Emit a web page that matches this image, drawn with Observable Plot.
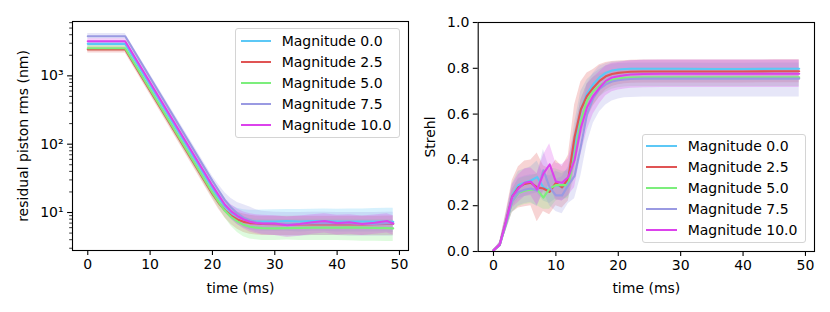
<!DOCTYPE html>
<html><head><meta charset="utf-8">
<script src="https://cdn.jsdelivr.net/npm/d3@7"></script>
<script src="https://cdn.jsdelivr.net/npm/@observablehq/plot@0.6"></script>
<style>
body{margin:0;background:#fff;}
#wrap{position:relative;width:830px;height:312px;font-family:"DejaVu Sans",sans-serif;overflow:hidden;}
.panel{position:absolute;top:0;}
.legend{position:absolute;border:1px solid #d4d4d4;border-radius:3px;background:rgba(255,255,255,0.8);box-sizing:border-box;}
.lhandle{position:absolute;height:2px;}
.ltext{position:absolute;font-size:14px;line-height:20px;height:20px;white-space:nowrap;color:#000;}
</style></head><body><div id="wrap"></div>
<script>
const seriesLabels = ["Magnitude 0.0", "Magnitude 2.5", "Magnitude 5.0", "Magnitude 7.5", "Magnitude 10.0"];
const seriesColors = ["#5cc8f6", "#e05454", "#7cee7c", "#9a9ae2", "#dc42ec"];

// ---- left panel: residual piston rms (nm) ----
const pistonTime = [0, 6, 20, 21, 22, 23, 24, 25, 26, 27, 28, 30, 32, 34, 36, 38, 40, 42, 44, 46, 48, 49];
const pistonMean00 = [2940, 2940, 22.6, 16.5, 12.3, 10.0, 8.7, 8.0, 7.6, 7.4, 7.4, 7.4, 7.5, 7.4, 7.5, 7.5, 7.4, 7.4, 7.4, 7.4, 7.4, 7.3];
const pistonLo00   = [2700, 2700, 19.5, 13.8, 10.0, 7.9, 6.7, 6.0, 5.6, 5.4, 5.3, 5.3, 5.3, 5.2, 5.3, 5.3, 5.2, 5.2, 5.2, 5.2, 5.2, 5.1];
const pistonHi00   = [3200, 3200, 26.5, 19.8, 15.2, 12.8, 11.5, 11.0, 10.8, 10.8, 10.9, 11.0, 11.1, 11.1, 11.2, 11.3, 11.2, 11.3, 11.3, 11.4, 11.5, 11.5];
const pistonMean25 = [2430, 2430, 18.7, 13.8, 10.8, 9.0, 7.9, 7.3, 7.0, 6.9, 6.8, 6.75, 6.7, 6.7, 6.75, 6.7, 6.75, 6.7, 6.7, 6.75, 6.8, 6.8];
const pistonLo25   = [2150, 2150, 15.8, 11.2, 8.4, 6.7, 5.7, 5.1, 4.8, 4.7, 4.6, 4.6, 4.6, 4.6, 4.6, 4.6, 4.6, 4.6, 4.6, 4.6, 4.6, 4.6];
const pistonHi25   = [2700, 2700, 22, 16.8, 13.5, 11.5, 10.2, 9.5, 9.1, 8.9, 8.8, 8.8, 8.8, 8.8, 8.8, 8.8, 8.8, 8.8, 8.8, 8.8, 8.9, 8.9];
const pistonMean50 = [2540, 2540, 19.5, 14.2, 10.6, 8.6, 7.4, 6.6, 6.2, 6.0, 5.9, 5.85, 5.9, 5.95, 6.0, 6.0, 6.0, 6.05, 6.0, 5.95, 5.9, 5.85];
const pistonLo50   = [2300, 2300, 16.6, 11.8, 8.4, 6.3, 5.1, 4.4, 4.1, 4.0, 3.9, 3.9, 3.95, 3.9, 3.9, 3.9, 3.9, 3.85, 3.8, 3.8, 3.75, 3.75];
const pistonHi50   = [2800, 2800, 22.8, 17, 13, 10.8, 9.4, 8.6, 8.2, 8.0, 7.9, 7.9, 7.9, 8.0, 8.0, 8.0, 8.0, 8.0, 7.9, 7.9, 7.9, 7.8];
const pistonMean75 = [3800, 3800, 29, 21, 15.2, 11.8, 9.7, 8.4, 7.7, 7.2, 7.0, 6.9, 6.8, 6.8, 6.9, 7.0, 6.9, 6.9, 6.8, 6.8, 6.9, 6.9];
const pistonLo75   = [3450, 3450, 25, 17.5, 12.2, 9.1, 7.3, 6.2, 5.5, 5.1, 4.8, 4.6, 4.5, 4.5, 4.6, 4.6, 4.6, 4.5, 4.5, 4.5, 4.5, 4.5];
const pistonHi75   = [4150, 4150, 34, 25.5, 19.5, 16, 14, 13, 12, 11, 10.4, 10.1, 10.0, 10.0, 10.1, 10.1, 10.0, 10.0, 10.0, 10.0, 10.1, 10.1];
const pistonMean100 = [3210, 3210, 24.7, 17.8, 13.0, 10.4, 8.9, 7.9, 7.3, 7.0, 6.9, 6.9, 6.5, 6.8, 7.2, 7.5, 7.0, 7.2, 6.8, 7.1, 7.5, 6.9];
const pistonLo100   = [2950, 2950, 21, 14.8, 10.5, 8.1, 6.7, 5.8, 5.2, 4.9, 4.7, 4.6, 4.3, 4.5, 4.8, 5.0, 4.7, 4.8, 4.6, 4.8, 5.0, 4.7];
const pistonHi100   = [3500, 3500, 29, 21.5, 16, 13, 11.3, 10.2, 9.6, 9.3, 9.1, 9.0, 8.6, 8.9, 9.3, 9.6, 9.1, 9.3, 8.9, 9.2, 9.6, 9.0];

// ---- right panel: Strehl ----
const strehlTime = [0,1,2,3,4,5,6,7,8,9,10,11,12,13,14,15,16,17,18,19,20,21,22,24,27,30,35,40,45,49];
const strehlMean00 = [0.005,0.03,0.13,0.245,0.29,0.30,0.31,0.325,0.28,0.27,0.29,0.28,0.30,0.47,0.62,0.69,0.73,0.76,0.78,0.79,0.795,0.797,0.798,0.798,0.798,0.798,0.797,0.797,0.798,0.798];
const strehlSd00   = [0.002,0.01,0.03,0.05,0.06,0.06,0.06,0.07,0.06,0.06,0.06,0.06,0.06,0.09,0.08,0.06,0.045,0.035,0.03,0.028,0.026,0.025,0.025,0.025,0.025,0.025,0.025,0.025,0.025,0.025];
const strehlMean25 = [0.005,0.03,0.13,0.24,0.28,0.295,0.30,0.28,0.275,0.26,0.30,0.28,0.32,0.50,0.62,0.68,0.715,0.745,0.765,0.775,0.78,0.783,0.785,0.786,0.786,0.786,0.786,0.786,0.787,0.787];
const strehlSd25   = [0.002,0.01,0.04,0.07,0.09,0.10,0.10,0.15,0.10,0.10,0.10,0.09,0.10,0.14,0.12,0.10,0.08,0.07,0.06,0.055,0.052,0.05,0.05,0.05,0.05,0.05,0.05,0.05,0.05,0.05];
const strehlMean50 = [0.005,0.028,0.12,0.22,0.255,0.265,0.27,0.27,0.235,0.275,0.29,0.29,0.29,0.42,0.57,0.66,0.70,0.725,0.74,0.75,0.755,0.758,0.76,0.761,0.761,0.761,0.761,0.761,0.761,0.761];
const strehlSd50   = [0.002,0.01,0.03,0.05,0.06,0.06,0.06,0.07,0.05,0.09,0.07,0.06,0.06,0.10,0.09,0.07,0.06,0.05,0.045,0.042,0.04,0.04,0.04,0.04,0.04,0.04,0.04,0.04,0.04,0.04];
const strehlMean75 = [0.005,0.028,0.12,0.22,0.26,0.27,0.275,0.265,0.355,0.28,0.245,0.245,0.29,0.33,0.46,0.60,0.67,0.71,0.73,0.742,0.748,0.751,0.753,0.755,0.755,0.755,0.755,0.755,0.755,0.755];
const strehlSd75   = [0.002,0.01,0.03,0.05,0.06,0.06,0.06,0.07,0.09,0.08,0.07,0.08,0.08,0.10,0.13,0.13,0.11,0.10,0.09,0.085,0.082,0.08,0.08,0.08,0.08,0.08,0.08,0.08,0.08,0.08];
const strehlMean100 = [0.005,0.03,0.13,0.24,0.275,0.30,0.305,0.27,0.34,0.38,0.305,0.30,0.325,0.40,0.54,0.63,0.68,0.715,0.745,0.76,0.765,0.77,0.773,0.775,0.776,0.776,0.776,0.776,0.776,0.776];
const strehlSd100   = [0.002,0.01,0.03,0.05,0.06,0.06,0.06,0.07,0.08,0.09,0.08,0.08,0.08,0.12,0.12,0.10,0.08,0.07,0.065,0.062,0.06,0.06,0.06,0.06,0.06,0.06,0.06,0.06,0.06,0.06];

const xTicks = [0, 10, 20, 30, 40, 50];
const pistonMajorTicks = [10, 100, 1000];
const pistonMajorLabels = ["10\u00b9", "10\u00b2", "10\u00b3"];
const pistonMinorTicks = [3,4,5,6,7,8,9,20,30,40,50,60,70,80,90,200,300,400,500,600,700,800,900,2000,3000,4000,5000,6000];
const strehlTicks = [0, 0.2, 0.4, 0.6, 0.8, 1.0];

// build tables
const pistonSets = [
  [pistonMean00, pistonLo00, pistonHi00],
  [pistonMean25, pistonLo25, pistonHi25],
  [pistonMean50, pistonLo50, pistonHi50],
  [pistonMean75, pistonLo75, pistonHi75],
  [pistonMean100, pistonLo100, pistonHi100]
];
const pistonRows = pistonSets.flatMap(([m, lo, hi], s) =>
  pistonTime.map((t, i) => ({t, mean: m[i], lo: lo[i], hi: hi[i], series: seriesLabels[s]})));
const strehlSets = [
  [strehlMean00, strehlSd00], [strehlMean25, strehlSd25], [strehlMean50, strehlSd50],
  [strehlMean75, strehlSd75], [strehlMean100, strehlSd100]
];
const strehlRows = strehlSets.flatMap(([m, sd], s) =>
  strehlTime.map((t, i) => ({t, mean: m[i], lo: m[i] - sd[i], hi: m[i] + sd[i], series: seriesLabels[s]})));

const commonStyle = {fontFamily: "DejaVu Sans", fontSize: "14px", color: "black", background: "transparent", overflow: "visible"};
const colorScale = {domain: seriesLabels, range: seriesColors};

function bandsAndLines(rows) {
  const marks = [];
  for (const lab of seriesLabels) {
    marks.push(Plot.areaY(rows.filter(d => d.series === lab), {x: "t", y1: "lo", y2: "hi", fill: "series", fillOpacity: 0.25}));
  }
  for (const lab of seriesLabels) {
    marks.push(Plot.lineY(rows.filter(d => d.series === lab), {x: "t", y: "mean", stroke: "series", strokeWidth: 2.1}));
  }
  return marks;
}

const left = Plot.plot({
  width: 415, height: 312,
  marginLeft: 72, marginRight: 7, marginTop: 21, marginBottom: 62,
  style: commonStyle,
  x: {domain: [-2.45, 51.45]},
  y: {type: "log", domain: [2.78, 6240]},
  color: colorScale,
  marks: [
    ...bandsAndLines(pistonRows),
    Plot.frame({stroke: "black", strokeWidth: 1.1}),
    Plot.axisX({ticks: xTicks, tickSize: 4.9, tickPadding: 4, strokeWidth: 1.1, tickFormat: d => String(d),
      label: "time (ms)", labelAnchor: "center", labelOffset: 42, labelArrow: "none"}),
    Plot.axisY({ticks: pistonMinorTicks, tickSize: 2.8, strokeWidth: 0.8, tickFormat: () => "", label: null}),
    Plot.axisY({ticks: pistonMajorTicks, tickSize: 4.9, tickPadding: 4, strokeWidth: 1.1,
      tickFormat: d => pistonMajorLabels[pistonMajorTicks.indexOf(d)],
      label: "residual piston rms (nm)", labelAnchor: "center", labelOffset: 54, labelArrow: "none"})
  ]
});

const right = Plot.plot({
  width: 415, height: 312,
  marginLeft: 62.7, marginRight: 16, marginTop: 22, marginBottom: 61,
  style: commonStyle,
  x: {domain: [-2.45, 51.45]},
  y: {domain: [0, 1]},
  color: colorScale,
  marks: [
    ...bandsAndLines(strehlRows),
    Plot.frame({stroke: "black", strokeWidth: 1.1}),
    Plot.axisX({ticks: xTicks, tickSize: 4.9, tickPadding: 4, strokeWidth: 1.1, tickFormat: d => String(d),
      label: "time (ms)", labelAnchor: "center", labelOffset: 41, labelArrow: "none"}),
    Plot.axisY({ticks: strehlTicks, tickSize: 4.9, tickPadding: 4, strokeWidth: 1.1, tickFormat: d => d.toFixed(1),
      label: "Strehl", labelAnchor: "center", labelOffset: 52.7, labelArrow: "none"})
  ]
});

const wrap = document.getElementById("wrap");
left.classList.add("panel"); left.style.left = "0px";
right.classList.add("panel"); right.style.left = "415px";
wrap.appendChild(left);
wrap.appendChild(right);

function addLegend(box, rowTop, rowStep, handleLeft, handleWidth, textLeft) {
  const lg = document.createElement("div");
  lg.className = "legend";
  lg.style.left = box[0] + "px"; lg.style.top = box[1] + "px";
  lg.style.width = box[2] + "px"; lg.style.height = box[3] + "px";
  wrap.appendChild(lg);
  seriesLabels.forEach((lab, i) => {
    const cy = rowTop + i * rowStep;
    const h = document.createElement("div");
    h.className = "lhandle";
    h.style.left = handleLeft + "px"; h.style.width = handleWidth + "px";
    h.style.top = (cy - 1) + "px"; h.style.background = seriesColors[i];
    wrap.appendChild(h);
    const tx = document.createElement("div");
    tx.className = "ltext";
    tx.style.left = textLeft + "px"; tx.style.top = (cy - 10) + "px";
    tx.textContent = lab;
    wrap.appendChild(tx);
  });
}
addLegend([235, 28, 165, 110], 40.7, 21.1, 240.7, 30, 281.7);
addLegend([641.7, 134.3, 164, 109], 145.7, 21.1, 646, 30.5, 687.7);
</script></body></html>
